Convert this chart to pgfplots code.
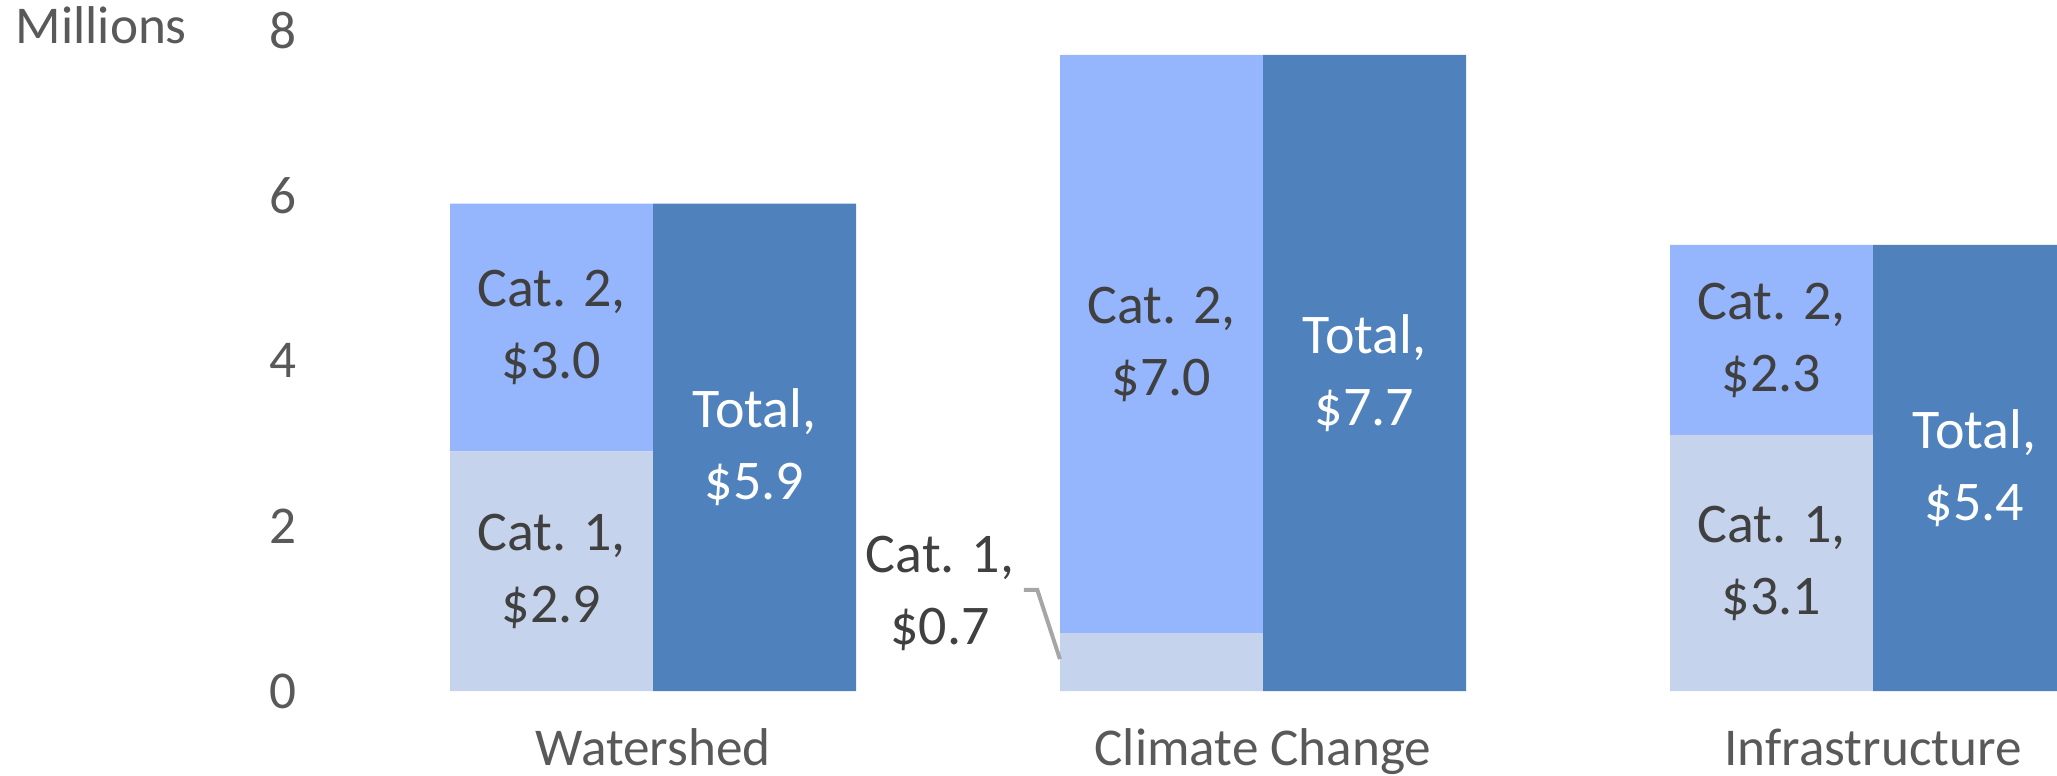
\documentclass[border=0pt]{standalone}
\usepackage{pgfplots}
\pgfplotsset{compat=1.18}
\usepackage{pgfplotstable}
\usepackage{fontspec}
\setmainfont{Carlito}
\definecolor{catone}{RGB}{198,211,236}
\definecolor{cattwo}{RGB}{149,182,252}
\definecolor{totalc}{RGB}{79,129,189}
\definecolor{axtext}{RGB}{89,89,89}
\definecolor{lbltext}{RGB}{64,64,64}
\definecolor{leader}{RGB}{166,166,166}

\pgfplotstableread{
x c1 c2 tot
0 2.9 3.0 5.9
1 0.7 7.0 7.7
2 3.1 2.3 5.4
}\datatable

\pgfplotsset{
  basechart/.style={
    anchor=south west, at={(80pt,21pt)},
    width=434.25pt, height=165.2pt, scale only axis,
    xmin=-0.546, xmax=2.3016, ymin=0, ymax=8,
  },
}
\tikzset{dlabel/.style={font=\fontsize{14}{18}\selectfont, align=center, inner sep=0pt, anchor=center}}

\begin{document}
\begin{tikzpicture}
\useasboundingbox (0,0) rectangle (514.25pt,193.75pt);
\clip (0,0) rectangle (514.25pt,193.75pt);

\begin{axis}[basechart,
  ybar stacked, bar width=0.3328, bar shift=-0.1664,
  axis line style={draw=none}, major tick length=0pt, tick style={draw=none},
  ytick={0,2,4,6,8}, xtick={0,1,2},
  xticklabels={Watershed,Climate Change,Infrastructure},
  ticklabel style={font=\fontsize{13.3}{16}\selectfont, text=axtext},
  yticklabel style={anchor=east, inner sep=0pt, xshift=-5.75pt},
  xticklabel style={anchor=base, inner sep=0pt, yshift=-18.5pt},
  /pgf/number format/assume math mode=true,
]
\addplot[fill=catone, draw=none] table[x=x, y=c1] {\datatable};
\addplot[fill=cattwo, draw=none] table[x=x, y=c2] {\datatable};
\end{axis}

\begin{axis}[basechart, hide axis,
  ybar, bar width=0.3328, bar shift=0.1664,
]
\addplot[fill=totalc, draw=none] table[x=x, y=tot] {\datatable};

% data labels
\node[dlabel, text=lbltext] at (axis cs:-0.1664,1.45) {Cat. 1,\\\$2.9};
\node[dlabel, text=lbltext] at (axis cs:-0.1664,4.40) {Cat. 2,\\\$3.0};
\node[dlabel, text=white]   at (axis cs:0.1664,2.95) {Total,\\\$5.9};

\node[dlabel, text=lbltext] at (axis cs:0.4705,1.18) {Cat. 1,\\\$0.7};
\node[dlabel, text=lbltext] at (axis cs:0.8336,4.20) {Cat. 2,\\\$7.0};
\node[dlabel, text=white]   at (axis cs:1.1664,3.85) {Total,\\\$7.7};

\node[dlabel, text=lbltext] at (axis cs:1.8336,1.55) {Cat. 1,\\\$3.1};
\node[dlabel, text=lbltext] at (axis cs:1.8336,4.25) {Cat. 2,\\\$2.3};
\node[dlabel, text=white]   at (axis cs:2.1664,2.70) {Total,\\\$5.4};

\draw[leader, line width=1pt] (axis cs:0.608,1.223) -- (axis cs:0.630,1.223) -- (axis cs:0.667,0.387);
\end{axis}

\node[anchor=base west, inner sep=0pt, font=\fontsize{13.3}{16}\selectfont, text=axtext] at (3.75pt,183pt) {Millions};
\end{tikzpicture}
\end{document}
